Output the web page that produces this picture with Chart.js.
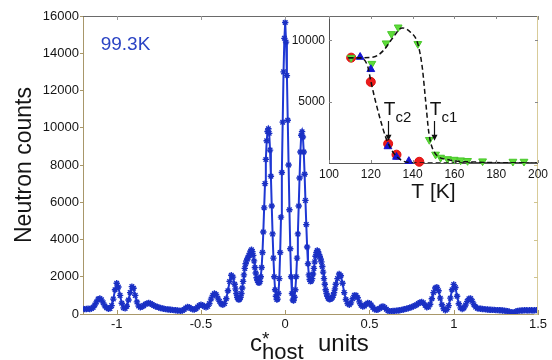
<!DOCTYPE html>
<html><head><meta charset="utf-8">
<script src="https://cdn.jsdelivr.net/npm/chart.js@4.4.1/dist/chart.umd.min.js"></script>
<style>
html,body{margin:0;padding:0;background:#fff;}
#wrap{position:relative;width:552px;height:360px;overflow:hidden;}
#main{position:absolute;left:0;top:0;}
#inset{position:absolute;left:270px;top:0;}
</style></head><body>
<div id="wrap"><canvas id="main" width="552" height="360"></canvas><canvas id="inset" width="282" height="210"></canvas></div>
<script>
// ---------- main scan data (c*host units, neutron counts) ----------
const wingLeftQ = [
-1.20,-1.19,-1.18,-1.17,-1.16,-1.15,-1.14,-1.13,-1.12,-1.11,
-1.10,-1.09,-1.08,-1.07,-1.06,-1.05,-1.04,-1.03,-1.02,-1.01,
-1.00,-0.99,-0.98,-0.97,-0.96,-0.95,-0.94,-0.93,-0.92,-0.91,
-0.90,-0.89,-0.88,-0.87,-0.86,-0.85,-0.84,-0.83,-0.82,-0.81,
-0.80,-0.79,-0.78,-0.77,-0.76,-0.75,-0.74,-0.73,-0.72,-0.71,
-0.70,-0.69,-0.68,-0.67,-0.66,-0.65,-0.64,-0.63,-0.62,-0.61,
-0.60,-0.59,-0.58,-0.57,-0.56,-0.55,-0.54,-0.53,-0.52,-0.51,
-0.50,-0.49,-0.48,-0.47,-0.46,-0.45,-0.44,-0.43,-0.42,-0.41,
-0.40,-0.39,-0.38,-0.37,-0.36,-0.35,-0.34,-0.33,-0.32,-0.31];
const wingLeftCounts = [
270,260,270,280,270,290,350,480,650,800,
830,760,600,430,330,280,300,450,800,1300,
1650,1450,1000,580,330,300,420,750,1150,1470,
1380,1000,650,430,360,390,450,520,570,590,
560,510,460,420,380,350,320,300,280,260,
250,240,230,220,210,200,190,180,170,190,
240,320,380,360,300,250,240,280,370,460,
500,470,400,360,410,560,800,1000,1100,1050,
850,680,540,500,570,820,1250,1750,2080,1980];
const coreQ = [
-0.300,-0.295,-0.290,-0.285,-0.280,-0.275,-0.270,-0.265,-0.260,-0.255,
-0.250,-0.245,-0.240,-0.235,-0.230,-0.225,-0.220,-0.215,-0.210,-0.205,
-0.200,-0.195,-0.190,-0.185,-0.180,-0.175,-0.170,-0.165,-0.160,-0.155,
-0.150,-0.145,-0.140,-0.135,-0.130,-0.125,-0.120,-0.115,-0.110,-0.105,
-0.100,-0.095,-0.090,-0.085,-0.080,-0.075,-0.070,-0.065,-0.060,-0.055,
-0.050,-0.045,-0.040,-0.035,-0.030,-0.025,-0.020,-0.015,-0.010,-0.005,
0.000,
0.005,0.010,0.015,0.020,0.025,0.030,0.035,0.040,0.045,0.050,
0.055,0.060,0.065,0.070,0.075,0.080,0.085,0.090,0.095,0.100,
0.105,0.110,0.115,0.120,0.125,0.130,0.135,0.140,0.145,0.150,
0.155,0.160,0.165,0.170,0.175,0.180,0.185,0.190,0.195,0.200,
0.205,0.210,0.215,0.220,0.225,0.230,0.235,0.240,0.245,0.250,
0.255,0.260,0.265,0.270,0.275,0.280,0.285,0.290,0.295,0.300];
const coreCounts = [
1600,1350,1100,900,800,770,800,900,1100,1400,
1750,2100,2450,2700,2850,2950,3050,3150,3250,3380,
3450,3350,3150,2850,2500,2200,1950,1800,1700,1670,
1750,2000,2500,3300,4400,5700,7000,8300,9300,9800,
9950,9700,8800,7400,5800,4300,3000,2000,1300,950,
780,800,1100,1900,3300,5200,7600,10300,13000,14800,
15650,
14600,12800,10400,8000,5600,3500,2000,1100,750,720,
900,1300,2000,3000,4300,5800,7300,8700,9600,9790,
9500,8700,7500,6100,4800,3600,2700,2100,1850,1750,
1780,1900,2150,2450,2800,3100,3300,3410,3350,3200,
3100,2950,2800,2550,2250,1900,1600,1300,1100,950,
850,800,790,810,850,900,1000,1150,1350,1600];
const wingRightQ = [
0.31,0.32,0.33,0.34,0.35,0.36,0.37,0.38,0.39,0.40,
0.41,0.42,0.43,0.44,0.45,0.46,0.47,0.48,0.49,0.50,
0.51,0.52,0.53,0.54,0.55,0.56,0.57,0.58,0.59,0.60,
0.61,0.62,0.63,0.64,0.65,0.66,0.67,0.68,0.69,0.70,
0.71,0.72,0.73,0.74,0.75,0.76,0.77,0.78,0.79,0.80,
0.81,0.82,0.83,0.84,0.85,0.86,0.87,0.88,0.89,0.90,
0.91,0.92,0.93,0.94,0.95,0.96,0.97,0.98,0.99,1.00,
1.01,1.02,1.03,1.04,1.05,1.06,1.07,1.08,1.09,1.10,
1.11,1.12,1.13,1.14,1.15,1.16,1.17,1.18,1.19,1.20,
1.21,1.22,1.23,1.24,1.25,1.26,1.27,1.28,1.29,1.30,
1.31,1.32,1.33,1.34,1.35,1.36,1.37,1.38,1.39,1.40,
1.41,1.42,1.43,1.44,1.45,1.46,1.47,1.48,1.49,1.50];
const wingRightCounts = [
1900,2150,2050,1650,1150,780,560,500,600,820,
1000,1000,870,650,470,400,430,520,590,580,
480,350,260,220,240,300,380,410,350,250,
180,150,150,160,170,180,190,200,220,240,
260,290,310,340,370,410,450,500,560,620,
650,600,470,360,380,520,820,1150,1400,1440,
1250,850,500,280,200,250,450,850,1300,1590,
1420,950,550,330,270,320,480,680,820,830,
680,500,370,310,290,280,270,260,250,240,
230,230,220,220,210,210,200,200,190,180,
170,150,120,90,70,100,140,170,180,190,
190,200,200,190,200,200,190,200,210,200];

const mainXTicks = [-1, -0.5, 0, 0.5, 1, 1.5];
const mainXTickLabels = ['-1', '-0.5', '0', '0.5', '1', '1.5'];
const mainYTicks = [0, 2000, 4000, 6000, 8000, 10000, 12000, 14000, 16000];
const mainYTickLabels = ['0', '2000', '4000', '6000', '8000', '10000', '12000', '14000', '16000'];
const tempLabel = '99.3K';
const tempLabelAt = [-1.095, 14170];

// ---------- inset data (T [K], integrated intensity) ----------
const redT = [110.6, 120.0, 128.3, 132.3, 143.2];
const redI = [8600, 6620, 1570, 680, 100];
const greenT = [110.6, 120.5, 127.3, 129.9, 133.1, 142.5, 148.0, 151.0, 153.4, 156.7, 159.9, 163.0, 166.3, 173.5, 188.0, 193.3];
const greenI = [8600, 8110, 9780, 10540, 11080, 9730, 1900, 700, 450, 330, 280, 230, 180, 150, 120, 120];
const blueT = [114.9, 120.0, 128.2, 132.3, 138.2];
const blueI = [8650, 7650, 1350, 490, 150];
const tc1T = [109.3, 114.9, 121.3, 126.1, 130.2, 135.0, 139.0, 142.5, 144.6, 146.2, 147.8, 150.2, 156.7, 167.9, 200];
const tc1I = [8600, 8600, 8650, 9190, 10140, 11030, 10680, 9730, 7840, 5140, 2440, 950, 280, 90, 0];
const tc2T = [109.3, 115.0, 118.5, 120.1, 122.1, 124.6, 127.0, 129.4, 132.6, 137.4, 143.8, 200];
const tc2I = [8600, 8580, 7900, 6620, 5140, 3520, 2170, 1220, 490, 60, 0, 0];
const insetXTicks = [100, 120, 140, 160, 180, 200];
const insetYTicks = [5000, 10000];
const arrowT = [128.3, 150.2];
const arrowTopI = [3430, 3430];
const arrowTipI = [1815, 1815];
const arrowSub = ['c2', 'c1'];

// ---------- styling ----------
const FONT = '"Liberation Sans", Arial, sans-serif';
const BLUE = '#1f38d4';
const TXT = '#151515';
const TAN = '#a8976a';

function hline(ctx, x1, y1, x2, y2) { ctx.beginPath(); ctx.moveTo(x1, y1); ctx.lineTo(x2, y2); ctx.stroke(); }

const mainDecor = {
  id: 'mainDecor',
  afterDraw(chart) {
    const {ctx, chartArea: a, scales: {x, y}} = chart;
    ctx.save();
    ctx.lineWidth = 1;
    ctx.strokeStyle = '#6a6a6a';
    hline(ctx, a.left, a.top + 0.5, a.right, a.top + 0.5);
    ctx.strokeStyle = '#d8cb98';
    hline(ctx, a.right - 0.5, a.top, a.right - 0.5, a.bottom);
    ctx.strokeStyle = TAN;
    mainXTicks.forEach(v => { const p = Math.round(x.getPixelForValue(v)) + 0.5; hline(ctx, p, a.bottom, p, a.bottom - 4); });
    ctx.strokeStyle = '#9a9a9a';
    mainXTicks.forEach(v => { const p = Math.round(x.getPixelForValue(v)) + 0.5; hline(ctx, p, a.top, p, a.top + 4); });
    ctx.strokeStyle = '#d0c490';
    mainYTicks.forEach(v => { const p = Math.round(y.getPixelForValue(v)) + 0.5; hline(ctx, a.right, p, a.right - 4, p); });
    // temperature label
    ctx.fillStyle = '#2b44c4';
    ctx.font = '19px ' + FONT;
    ctx.textAlign = 'left';
    ctx.textBaseline = 'alphabetic';
    ctx.fillText(tempLabel, x.getPixelForValue(tempLabelAt[0]), y.getPixelForValue(tempLabelAt[1]));
    // x axis title: c*_host units
    ctx.fillStyle = TXT;
    const x0 = 250, base = 351;
    ctx.font = '24px ' + FONT;
    ctx.fillText('c', x0, base);
    const cw = ctx.measureText('c').width;
    ctx.font = '19px ' + FONT;
    ctx.fillText('*', x0 + cw, base - 6);
    ctx.font = '22px ' + FONT;
    ctx.fillText('host', x0 + cw, base + 8);
    ctx.font = '24px ' + FONT;
    ctx.fillText('units', 318, base);
    ctx.restore();
  }
};

const mainPoints = wingLeftQ.map((q, i) => ({x: q, y: wingLeftCounts[i]}))
  .concat(coreQ.map((q, i) => ({x: q, y: coreCounts[i]})))
  .concat(wingRightQ.map((q, i) => ({x: q, y: wingRightCounts[i]})));

new Chart(document.getElementById('main'), {
  type: 'line',
  data: { datasets: [{
    data: mainPoints,
    borderColor: BLUE, backgroundColor: BLUE, borderWidth: 2,
    pointStyle: 'star', pointRadius: 3.2, pointBorderWidth: 1.4, pointBorderColor: '#1a30c4',
    fill: false, tension: 0
  }]},
  options: {
    responsive: false, animation: false, devicePixelRatio: 1,
    layout: { padding: { top: 16, right: 14, left: 0, bottom: 0 } },
    plugins: { legend: { display: false }, tooltip: { enabled: false } },
    scales: {
      x: {
        type: 'linear', min: -1.2, max: 1.5,
        afterBuildTicks: s => { s.ticks = mainXTicks.map(v => ({value: v})); },
        afterFit: s => { s.height = 46; },
        grid: { display: true, drawOnChartArea: false, drawTicks: false },
        border: { color: TAN, width: 1 },
        ticks: { autoSkip: false, maxRotation: 0, padding: 3, color: TXT, font: { family: FONT, size: 13 },
                 callback: (v, i) => mainXTickLabels[i] }
      },
      y: {
        min: 0, max: 16000,
        afterBuildTicks: s => { s.ticks = mainYTicks.map(v => ({value: v})); },
        afterFit: s => { s.width = 83; },
        grid: { display: true, drawOnChartArea: false, drawTicks: true, tickLength: 3, color: TAN },
        border: { color: TAN, width: 1 },
        ticks: { autoSkip: false, padding: 1, color: TXT, font: { family: FONT, size: 13 },
                 callback: (v, i) => mainYTickLabels[i] },
        title: { display: true, text: 'Neutron counts', color: TXT, font: { family: FONT, size: 23 }, padding: { top: 11, bottom: 0 } }
      }
    }
  },
  plugins: [mainDecor]
});

// ---------- inset ----------
const insetDecor = {
  id: 'insetDecor',
  beforeDraw(chart) {
    const {ctx, chartArea: a} = chart;
    ctx.save();
    ctx.fillStyle = '#ffffff';
    ctx.fillRect(a.left, a.top, a.right - a.left, a.bottom - a.top);
    ctx.restore();
  },
  afterDraw(chart) {
    const {ctx, chartArea: a, scales: {x, y}} = chart;
    ctx.save();
    ctx.lineWidth = 1;
    ctx.strokeStyle = '#6a6a6a';
    hline(ctx, a.left, a.top + 0.5, a.right, a.top + 0.5);
    ctx.strokeStyle = '#d8cb98';
    hline(ctx, a.right - 0.5, a.top, a.right - 0.5, a.bottom);
    ctx.strokeStyle = '#8a8a8a';
    insetXTicks.forEach(v => { const p = Math.round(x.getPixelForValue(v)) + 0.5; hline(ctx, p, a.bottom, p, a.bottom - 3); hline(ctx, p, a.top, p, a.top + 3); });
    insetYTicks.forEach(v => { const p = Math.round(y.getPixelForValue(v)) + 0.5; hline(ctx, a.left, p, a.left + 3, p); hline(ctx, a.right, p, a.right - 3, p); });
    // Tc arrows and labels
    ctx.strokeStyle = '#111'; ctx.fillStyle = '#111'; ctx.lineWidth = 1.2;
    arrowT.forEach((t, i) => {
      const px = Math.round(x.getPixelForValue(t)) + 0.5;
      const top = y.getPixelForValue(arrowTopI[i]);
      const tip = y.getPixelForValue(arrowTipI[i]);
      hline(ctx, px, top, px, tip - 5);
      ctx.beginPath(); ctx.moveTo(px - 3, tip - 6); ctx.lineTo(px + 3, tip - 6); ctx.lineTo(px, tip); ctx.closePath(); ctx.fill();
      ctx.textAlign = 'center'; ctx.textBaseline = 'alphabetic';
      ctx.font = '19px ' + FONT;
      ctx.fillText('T', px + 1, top - 6);
      ctx.textAlign = 'left';
      ctx.font = '15px ' + FONT;
      ctx.fillText(arrowSub[i], px + 7, top + 1);
    });
    ctx.restore();
  }
};

const pts = (xs, ys) => xs.map((v, i) => ({x: v, y: ys[i]}));
new Chart(document.getElementById('inset'), {
  type: 'scatter',
  data: { datasets: [
    { data: pts(tc1T, tc1I), showLine: true, pointRadius: 0, borderColor: '#111', borderWidth: 1.5, borderDash: [5, 3], cubicInterpolationMode: 'monotone', order: 0 },
    { data: pts(tc2T, tc2I), showLine: true, pointRadius: 0, borderColor: '#111', borderWidth: 1.5, borderDash: [5, 3], cubicInterpolationMode: 'monotone', order: 1 },
    { data: pts(blueT, blueI), pointStyle: 'triangle', pointRadius: 4.5, backgroundColor: '#1414d2', borderColor: '#1414d2', borderWidth: 1, clip: false, order: 2 },
    { data: pts(greenT, greenI), pointStyle: 'triangle', rotation: 180, pointRadius: 4.5, backgroundColor: '#5fdc3a', borderColor: '#48c82a', borderWidth: 1, clip: false, order: 3 },
    { data: pts(redT, redI), pointStyle: 'circle', pointRadius: 4.5, backgroundColor: '#ec1c1c', borderColor: '#e01010', borderWidth: 1, clip: false, order: 4 }
  ]},
  options: {
    responsive: false, animation: false, devicePixelRatio: 1,
    layout: { padding: { top: 16, right: 14, left: 0, bottom: 0 } },
    plugins: { legend: { display: false }, tooltip: { enabled: false } },
    scales: {
      x: {
        type: 'linear', min: 100, max: 200,
        afterBuildTicks: s => { s.ticks = insetXTicks.map(v => ({value: v})); },
        afterFit: s => { s.height = 47; },
        grid: { display: true, drawOnChartArea: false, drawTicks: false },
        border: { color: '#555', width: 1 },
        ticks: { autoSkip: false, maxRotation: 0, padding: 4, color: TXT, font: { family: FONT, size: 12 }, callback: v => String(v) },
        title: { display: true, text: 'T [K]', color: TXT, font: { family: FONT, size: 21 }, padding: { top: 0, bottom: 5 } }
      },
      y: {
        min: 0, max: 12000,
        afterBuildTicks: s => { s.ticks = insetYTicks.map(v => ({value: v})); },
        afterFit: s => { s.width = 59; },
        grid: { display: true, drawOnChartArea: false, drawTicks: false },
        border: { color: '#555', width: 1 },
        ticks: { autoSkip: false, padding: 4, color: TXT, font: { family: FONT, size: 12 }, callback: v => String(v) }
      }
    }
  },
  plugins: [insetDecor]
});
</script>
</body></html>
